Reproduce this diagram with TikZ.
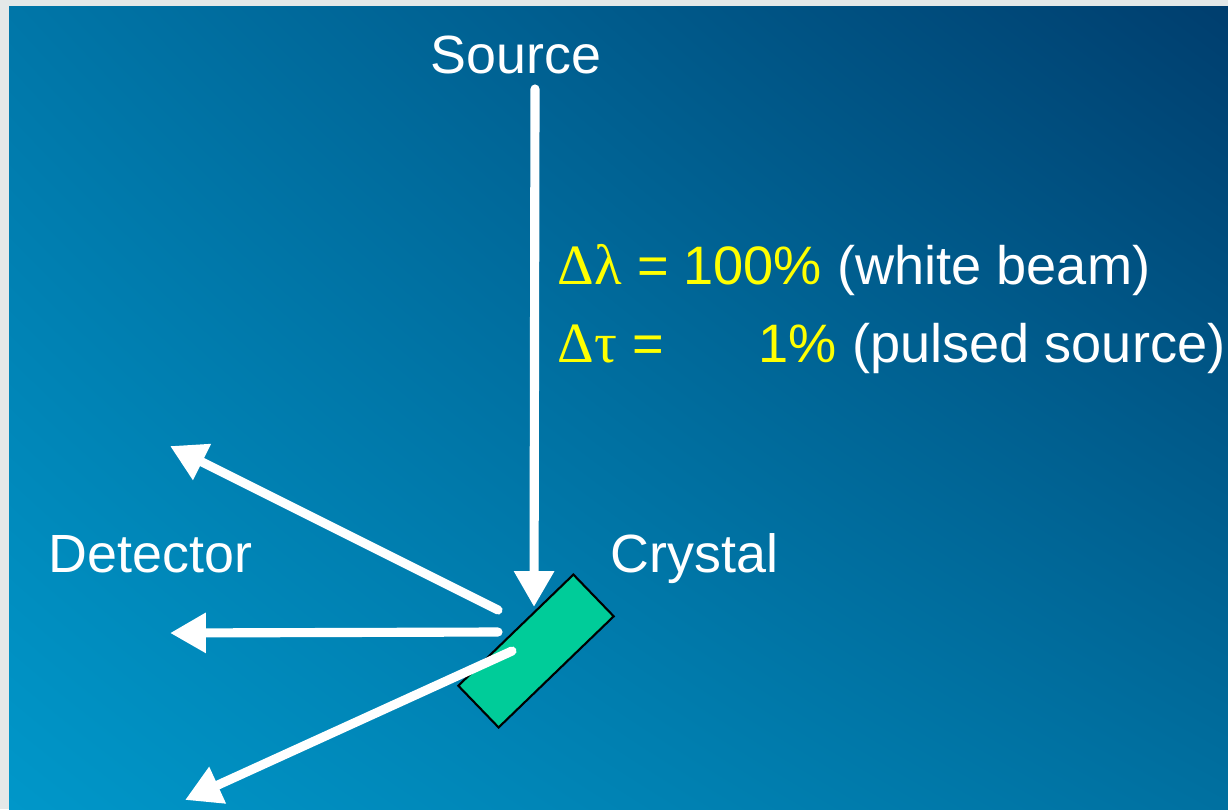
\documentclass[tikz,border=0pt]{standalone}
\usepackage{fontspec}
\setmainfont{Liberation Sans}
\newfontfamily\symfont{Liberation Serif}
\usepackage{xcolor}
\usetikzlibrary{arrows.meta,shadings}
\definecolor{framegray}{HTML}{E4E8E8}
\definecolor{bgul}{HTML}{0076A8}
\definecolor{bgur}{HTML}{003E6E}
\definecolor{bgll}{HTML}{0097C9}
\definecolor{bglr}{HTML}{0070A0}
\definecolor{xtalgreen}{HTML}{00CC99}
\definecolor{hiyellow}{HTML}{FFFF00}
\tikzset{
  beam/.style={draw=white, line width=2.6pt, line cap=round, -{Triangle[length=10.2pt, width=10.8pt]}},
  lbl/.style={text=white, font=\fontsize{15.3}{18}\selectfont, inner sep=0pt},
  eqn/.style={lbl, font=\fontsize{15.4}{19}\selectfont},
  xtal/.style={draw=black, fill=xtalgreen, line width=0.6pt, rotate=44, minimum width=45.5pt, minimum height=16.5pt, inner sep=0pt}
}

\begin{document}
\begin{tikzpicture}[x=0.01cm, y=-0.01cm]
\fill[framegray] (0,0) rectangle (1228,809);
\shade[upper left=bgul, upper right=bgur, lower left=bgll, lower right=bglr] (9,6) rectangle (1228,809);
\useasboundingbox (0,0) rectangle (1228,809);
% crystal and beam ends
\node[xtal] (crystal) at (536,651) {};
\coordinate (src) at (535,89);
\coordinate (hit) at (534,607);
\coordinate (out1) at (498,610);
\coordinate (out2) at (498,632);
\coordinate (out3) at (512,651);
\coordinate (det1) at (170,446);
\coordinate (det2) at (170,633);
\coordinate (det3) at (185,800);
\draw[beam] (src) -- (hit);
\draw[beam] (out1) -- (det1);
\draw[beam] (out2) -- (det2);
\draw[beam] (out3) -- (det3);
% labels
\node[lbl, anchor=base] (source) at (516,73) {Source};
\node[lbl, anchor=base west] (detector) at (48,572) {Detector};
\node[lbl, anchor=base west] (crystallbl) at (610,572) {Crystal};
\node[eqn, anchor=base west] (dlambda) at (557,284) {\textcolor{hiyellow}{{\symfont\fontsize{16.2}{19}\selectfont Δλ} = 100\%} (white beam)};
\node[eqn, anchor=base west] (dtau) at (557,362) {\textcolor{hiyellow}{{\symfont\fontsize{16.2}{19}\selectfont Δτ} =\hspace{27pt}1\%} (pulsed source)};
\end{tikzpicture}
\end{document}
